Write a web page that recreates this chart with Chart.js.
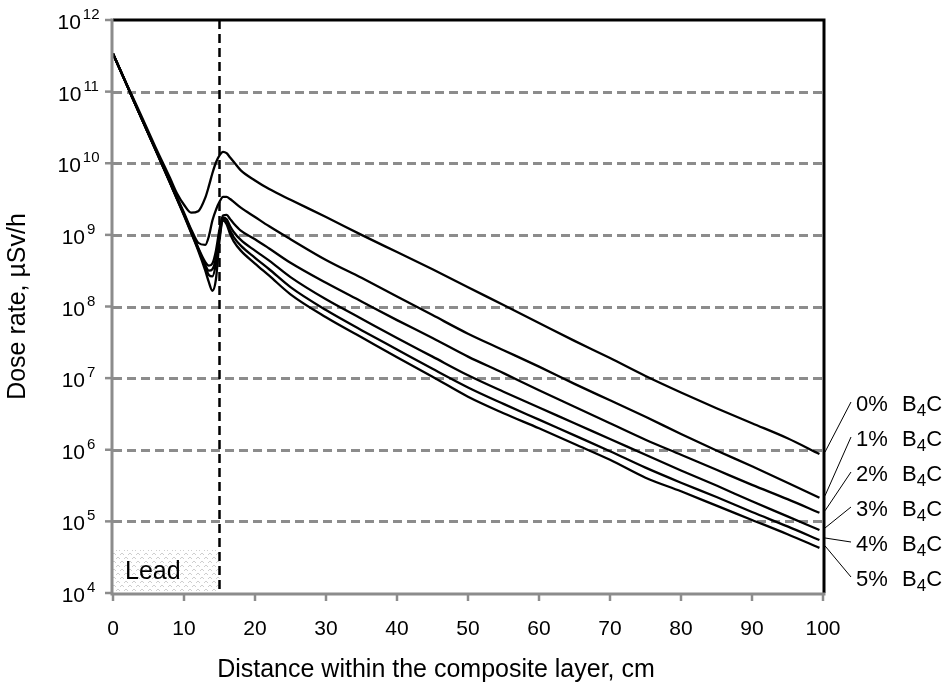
<!DOCTYPE html>
<html>
<head>
<meta charset="utf-8">
<script src="https://cdn.jsdelivr.net/npm/chart.js@4.4.1/dist/chart.umd.min.js"></script>
<style>
	body { margin: 0; background: #fff; }
	#wrap { width: 949px; height: 685px; }
</style>
</head>
<body>
<div id="wrap"><canvas id="chart" width="949" height="685"></canvas></div>
<script>
// Distance within the composite layer, cm
const distance = [0, 2, 4, 6, 8, 9, 10, 11, 12, 13, 13.5, 14, 14.5, 15, 15.5, 16, 16.5, 17, 18, 20, 22, 25,
	30, 35, 40, 45, 50, 55, 60, 65, 70, 75, 80, 85, 90, 95, 99.5];

// log10 of the dose rate (µSv/h) for each B4C content
const dose0 = [11.53, 11.09, 10.66, 10.22, 9.80, 9.58, 9.42, 9.31, 9.33, 9.52, 9.68, 9.86, 10.01, 10.11, 10.16, 10.14, 10.08, 10.02, 9.90, 9.76, 9.64, 9.49,
	9.25, 9.00, 8.76, 8.52, 8.27, 8.02, 7.77, 7.52, 7.28, 7.03, 6.80, 6.58, 6.37, 6.16, 5.94];
const dose1 = [11.53, 11.08, 10.63, 10.19, 9.75, 9.53, 9.31, 9.08, 8.89, 8.86, 8.98, 9.20, 9.35, 9.46, 9.53, 9.53, 9.50, 9.46, 9.38, 9.25, 9.12, 8.94,
	8.65, 8.40, 8.14, 7.88, 7.62, 7.39, 7.16, 6.92, 6.69, 6.46, 6.22, 5.99, 5.77, 5.54, 5.33];
const dose2 = [11.53, 11.08, 10.63, 10.19, 9.74, 9.51, 9.29, 9.06, 8.82, 8.62, 8.57, 8.60, 8.78, 9.08, 9.27, 9.28, 9.22, 9.16, 9.06, 8.94, 8.81, 8.61,
	8.33, 8.07, 7.81, 7.56, 7.30, 7.07, 6.83, 6.60, 6.37, 6.14, 5.93, 5.72, 5.51, 5.31, 5.12];
const dose3 = [11.53, 11.08, 10.63, 10.19, 9.74, 9.51, 9.29, 9.05, 8.81, 8.58, 8.50, 8.52, 8.68, 9.02, 9.24, 9.22, 9.12, 9.04, 8.93, 8.78, 8.64, 8.41,
	8.10, 7.83, 7.56, 7.30, 7.04, 6.81, 6.59, 6.37, 6.15, 5.93, 5.71, 5.50, 5.28, 5.07, 4.88];
const dose4 = [11.53, 11.08, 10.63, 10.19, 9.74, 9.51, 9.28, 9.04, 8.80, 8.55, 8.44, 8.42, 8.60, 8.98, 9.22, 9.18, 9.06, 8.97, 8.85, 8.68, 8.52, 8.27,
	7.95, 7.67, 7.40, 7.13, 6.87, 6.64, 6.42, 6.20, 5.98, 5.75, 5.54, 5.34, 5.13, 4.93, 4.74];
const dose5 = [11.53, 11.08, 10.63, 10.18, 9.73, 9.50, 9.27, 9.03, 8.78, 8.50, 8.34, 8.22, 8.38, 8.92, 9.20, 9.15, 9.01, 8.91, 8.78, 8.60, 8.43, 8.17,
	7.85, 7.57, 7.29, 7.02, 6.74, 6.51, 6.30, 6.08, 5.86, 5.61, 5.42, 5.22, 5.02, 4.82, 4.63];

const seriesLabels = ['0%', '1%', '2%', '3%', '4%', '5%'];
const seriesDose = [dose0, dose1, dose2, dose3, dose4, dose5];

// axes
const xTicks = [0, 10, 20, 30, 40, 50, 60, 70, 80, 90, 100];
const yTickExps = [4, 5, 6, 7, 8, 9, 10, 11, 12];
const xTitle = 'Distance within the composite layer, cm';
const yTitle = 'Dose rate, µSv/h';

// lead layer region
const leadLabel = 'Lead';
const leadRange = [0, 15];
const leadTopExp = 4.6;

const FONT = '"Liberation Sans", Arial, Helvetica, sans-serif';
const GRAY = '#8c8c8c';


/**
 * light stipple used for the lead block
 */
function makeStipple(ctx) {
	const c = document.createElement('canvas');
	c.width = 8;
	c.height = 8;
	const g = c.getContext('2d');
	g.fillStyle = '#fff';
	g.fillRect(0, 0, 8, 8);
	g.fillStyle = '#cfcfcf';
	g.fillRect(1, 1, 2, 1);
	g.fillRect(0, 2, 1, 1);
	g.fillRect(3, 2, 1, 1);
	g.fillRect(5, 5, 2, 1);
	g.fillRect(4, 6, 1, 1);
	g.fillRect(7, 6, 1, 1);
	return ctx.createPattern(c, 'repeat');
}


const decorPlugin = {
	id: 'decor',
	beforeDatasetsDraw(chart) {
		const { ctx, chartArea: a, scales: { x, y } } = chart;
		ctx.save();

		// lead block
		const lx0 = x.getPixelForValue(leadRange[0]);
		const lx1 = x.getPixelForValue(leadRange[1]);
		const ly0 = y.getPixelForValue(10 ** leadTopExp);
		const ly1 = y.getPixelForValue(10 ** yTickExps[0]);
		ctx.fillStyle = makeStipple(ctx);
		ctx.fillRect(lx0, ly0, lx1 - lx0, ly1 - ly0);
		ctx.fillStyle = '#000';
		ctx.font = '25px ' + FONT;
		ctx.textAlign = 'left';
		ctx.textBaseline = 'alphabetic';
		ctx.fillText(leadLabel, lx0 + 12, (ly0 + ly1) / 2 + 7);

		// horizontal dashed grid
		ctx.strokeStyle = GRAY;
		ctx.lineWidth = 3;
		ctx.setLineDash([9, 5]);
		for (const e of yTickExps.slice(1, -1)) {
			const py = Math.round(y.getPixelForValue(10 ** e)) + 0.5;
			ctx.beginPath();
			ctx.moveTo(a.left, py);
			ctx.lineTo(a.right, py);
			ctx.stroke();
		}

		// boundary of the lead layer
		ctx.strokeStyle = '#000';
		ctx.lineWidth = 2.5;
		ctx.setLineDash([9, 5]);
		ctx.beginPath();
		ctx.moveTo(lx1, a.top);
		ctx.lineTo(lx1, a.bottom);
		ctx.stroke();
		ctx.restore();
	},

	afterDatasetsDraw(chart) {
		const { ctx, chartArea: a, scales: { x, y } } = chart;
		ctx.save();
		ctx.setLineDash([]);

		// top and right frame
		ctx.strokeStyle = '#000';
		ctx.lineWidth = 3;
		ctx.beginPath();
		ctx.moveTo(a.left, a.top);
		ctx.lineTo(a.right + 1, a.top);
		ctx.lineTo(a.right + 1, a.bottom);
		ctx.stroke();

		// left and bottom axes with ticks
		ctx.strokeStyle = GRAY;
		ctx.beginPath();
		ctx.moveTo(a.left - 1, a.top - 1.5);
		ctx.lineTo(a.left - 1, a.bottom + 1);
		ctx.lineTo(a.right + 2.5, a.bottom + 1);
		ctx.stroke();
		ctx.lineWidth = 2.5;
		for (const e of yTickExps) {
			const py = y.getPixelForValue(10 ** e);
			ctx.beginPath();
			ctx.moveTo(a.left - 8, py);
			ctx.lineTo(a.left - 1, py);
			ctx.stroke();
		}
		for (const v of xTicks) {
			const px = x.getPixelForValue(v);
			ctx.beginPath();
			ctx.moveTo(px, a.bottom + 1);
			ctx.lineTo(px, a.bottom + 8);
			ctx.stroke();
		}

		// tick labels
		ctx.fillStyle = '#000';
		ctx.textBaseline = 'alphabetic';
		ctx.font = '21px ' + FONT;
		ctx.textAlign = 'center';
		for (const v of xTicks) {
			ctx.fillText(String(v), x.getPixelForValue(v), a.bottom + 42);
		}
		ctx.textAlign = 'left';
		for (const e of yTickExps) {
			const py = y.getPixelForValue(10 ** e);
			ctx.font = '21px ' + FONT;
			const wb = ctx.measureText('10').width;
			ctx.font = '15px ' + FONT;
			const we = ctx.measureText(String(e)).width;
			const x0 = 78.5 - (wb + 2 + we) / 2;
			ctx.font = '21px ' + FONT;
			ctx.fillText('10', x0, py + 9);
			ctx.font = '15px ' + FONT;
			ctx.fillText(String(e), x0 + wb + 2, py - 1);
		}

		// axis titles
		ctx.font = '25px ' + FONT;
		ctx.textAlign = 'center';
		ctx.fillText(xTitle, (a.left + a.right) / 2 - 32, a.bottom + 84);
		ctx.save();
		ctx.translate(25, (a.top + a.bottom) / 2);
		ctx.rotate(-Math.PI / 2);
		ctx.fillText(yTitle, 0, 0);
		ctx.restore();

		// series labels with leader lines
		ctx.lineWidth = 1;
		ctx.strokeStyle = '#000';
		seriesLabels.forEach((lab, i) => {
			const base = 411 + 35 * i;
			const dose = seriesDose[i];
			const endY = y.getPixelForValue(10 ** dose[dose.length - 1]);
			ctx.beginPath();
			ctx.moveTo(851, base - 9);
			ctx.lineTo(a.right + 2, endY - 2);
			ctx.stroke();

			ctx.textAlign = 'left';
			ctx.font = '22px ' + FONT;
			ctx.fillText(lab, 856, base);
			ctx.fillText('B', 902, base);
			const wB = ctx.measureText('B').width;
			ctx.font = '17px ' + FONT;
			ctx.fillText('4', 902 + wB, base + 5);
			const w4 = ctx.measureText('4').width;
			ctx.font = '22px ' + FONT;
			ctx.fillText('C', 902 + wB + w4, base);
		});
		ctx.restore();
	}
};


const chart = new Chart(document.getElementById('chart'), {
	type: 'line',
	data: {
		datasets: seriesLabels.map((lab, i) => ({
			label: lab + ' B4C',
			data: distance.map((d, j) => ({ x: d, y: 10 ** seriesDose[i][j] })),
			borderColor: '#000',
			borderWidth: 2.3,
			pointRadius: 0,
			fill: false,
			cubicInterpolationMode: 'monotone'
		}))
	},
	options: {
		responsive: false,
		animation: false,
		devicePixelRatio: 1,
		layout: { padding: { left: 113, right: 126, top: 20, bottom: 92 } },
		plugins: {
			legend: { display: false },
			tooltip: { enabled: false }
		},
		scales: {
			x: { type: 'linear', min: 0, max: 100, display: false },
			y: { type: 'logarithmic', min: 1e4, max: 1e12, display: false }
		}
	},
	plugins: [decorPlugin]
});
</script>
</body>
</html>
